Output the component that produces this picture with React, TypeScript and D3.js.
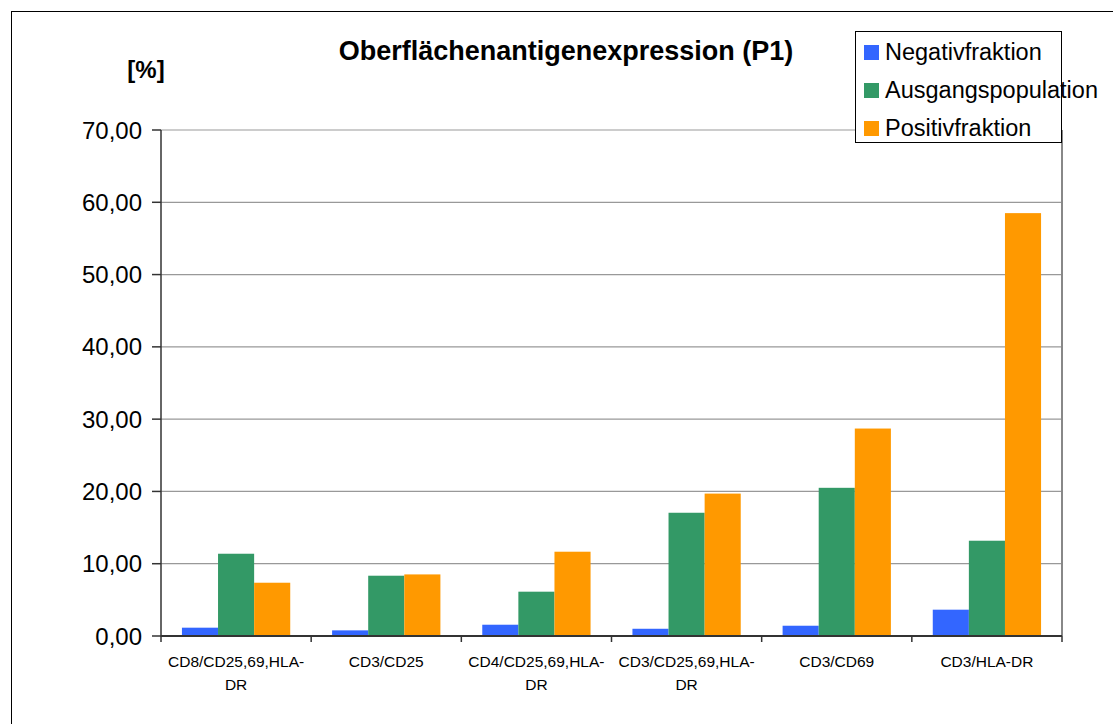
import React from "react";
import * as d3 from "d3";

const categories = [
  ["CD8/CD25,69,HLA-", "DR"],
  ["CD3/CD25"],
  ["CD4/CD25,69,HLA-", "DR"],
  ["CD3/CD25,69,HLA-", "DR"],
  ["CD3/CD69"],
  ["CD3/HLA-DR"],
];
const seriesNames = ["Negativfraktion", "Ausgangspopulation", "Positivfraktion"];
const seriesColors = ["#3366FF", "#339966", "#FF9900"];
const negativ = [1.15, 0.78, 1.56, 1.0, 1.42, 3.64];
const ausgang = [11.38, 8.34, 6.13, 17.05, 20.5, 13.18];
const positiv = [7.37, 8.52, 11.66, 19.7, 28.7, 58.5];
const yTicks = [0, 10, 20, 30, 40, 50, 60, 70];

export default function App() {
  const W = 1113, H = 724;
  const left = 161, right = 1062, top = 130, bottom = 636;
  const values = [negativ, ausgang, positiv];
  const x = d3.scaleBand<number>().domain(d3.range(categories.length)).range([left, right]).paddingInner(0).paddingOuter(0);
  const inner = d3.scaleBand<number>().domain([0, 1, 2]).range([0, x.bandwidth()]).paddingOuter(0.58).paddingInner(0);
  const y = d3.scaleLinear().domain([0, 70]).range([bottom, top]);
  const fmt = (v: number) => v.toFixed(2).replace(".", ",");
  const font = "Arial, 'Liberation Sans', sans-serif";
  return (
    <svg width={W} height={H} style={{ position: "absolute", left: 0, top: 0, background: "#fff" }} fontFamily={font}>
      <rect x={11.5} y={11.5} width={1200} height={800} fill="#fff" stroke="#000" strokeWidth={1} />
      {yTicks.map((t) => (
        <g key={t}>
          {t > 0 && <line x1={left} x2={right} y1={y(t)} y2={y(t)} stroke="#999" strokeWidth={1.2} />}
          <line x1={left - 9} x2={left} y1={y(t)} y2={y(t)} stroke="#333" strokeWidth={1.5} />
          <text x={142} y={y(t)} dy="0.36em" textAnchor="end" fontSize={24} fill="#000">{fmt(t)}</text>
        </g>
      ))}
      <line x1={right} x2={right} y1={top} y2={bottom} stroke="#888" strokeWidth={2} />
      {values.map((arr, s) =>
        arr.map((v, i) => (
          <rect key={`${s}-${i}`} x={(x(i) as number) + (inner(s) as number)} y={y(v)} width={inner.bandwidth()} height={y(0) - y(v)} fill={seriesColors[s]} />
        ))
      )}
      <line x1={left} x2={left} y1={top} y2={bottom} stroke="#333" strokeWidth={1.5} />
      <line x1={left} x2={right} y1={bottom} y2={bottom} stroke="#333" strokeWidth={2} />
      {d3.range(categories.length + 1).map((i) => {
        const xx = left + i * x.bandwidth();
        return <line key={i} x1={xx} x2={xx} y1={bottom} y2={bottom + 6} stroke="#333" strokeWidth={1.5} />;
      })}
      {categories.map((lines, i) => (
        <text key={i} textAnchor="middle" fontSize={15.5} fill="#000">
          {lines.map((l, j) => (
            <tspan key={j} x={(x(i) as number) + x.bandwidth() / 2} y={667 + j * 23}>{l}</tspan>
          ))}
        </text>
      ))}
      <text x={566} y={60} textAnchor="middle" fontSize={27} fontWeight="bold">Oberflächenantigenexpression (P1)</text>
      <text x={146} y={78} textAnchor="middle" fontSize={24} fontWeight="bold">[%]</text>
      <rect x={855.5} y={31.5} width={206} height={111} fill="#fff" stroke="#000" strokeWidth={1} />
      {seriesNames.map((n, i) => (
        <g key={n}>
          <rect x={864} y={45 + i * 38} width={15} height={15} fill={seriesColors[i]} />
          <text x={885} y={60 + i * 38} fontSize={23.5}>{n}</text>
        </g>
      ))}
    </svg>
  );
}
